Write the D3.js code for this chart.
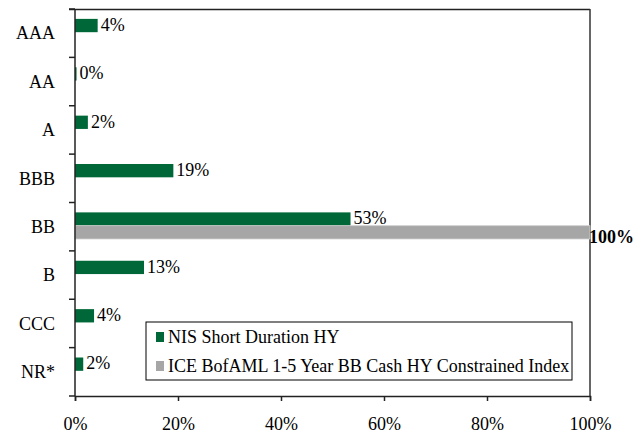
<!DOCTYPE html>
<meta charset="utf-8">
<script src="https://d3js.org/d3.v7.min.js"></script>
<style>
  body { margin: 0; background: #fff; }
  text { font-family: "Liberation Serif", "Times New Roman", serif; fill: #000; }
</style>
<div id="my_dataviz"></div>
<script>

// data
var ratings = ["AAA", "AA", "A", "BBB", "BB", "B", "CCC", "NR*"];
var nisValues = [4.4, 0.3, 2.5, 19.1, 53.5, 13.4, 3.7, 1.6];
var nisLabels = ["4%", "0%", "2%", "19%", "53%", "13%", "4%", "2%"];
var iceValues = [0, 0, 0, 0, 100, 0, 0, 0];
var iceLabels = ["", "", "", "", "100%", "", "", ""];
var seriesNames = ["NIS Short Duration HY", "ICE BofAML 1-5 Year BB Cash HY Constrained Index"];
var xTicks = [0, 20, 40, 60, 80, 100];

var green = "#006838", grey = "#a6a6a6";
var fontSize = "18px";

var margin = {top: 9, right: 44, bottom: 37, left: 75},
    width = 634 - margin.left - margin.right,
    height = 433 - margin.top - margin.bottom;

var svg = d3.select("#my_dataviz")
  .append("svg")
    .attr("width", 634)
    .attr("height", 433)
  .append("g")
    .attr("transform", "translate(" + margin.left + "," + margin.top + ")");

var x = d3.scaleLinear().domain([0, 100]).range([0, width]);

var y = d3.scaleBand()
  .domain(ratings)
  .range([0, height])
  .paddingInner(0.45)
  .paddingOuter(0.225);

var sub = d3.scaleBand()
  .domain([0, 1])
  .range([0, y.bandwidth()]);

// frame: top and right edge
svg.append("line")
  .attr("x1", -6).attr("x2", width).attr("y1", 0.5).attr("y2", 0.5)
  .attr("stroke", "#222").attr("stroke-width", 1.5);
svg.append("line")
  .attr("x1", width).attr("x2", width).attr("y1", 0).attr("y2", height)
  .attr("stroke", "#333").attr("stroke-width", 1.5);

// bars
var rows = ratings.map(function(r, i) {
  return {rating: r, nis: nisValues[i], ice: iceValues[i], nisLabel: nisLabels[i], iceLabel: iceLabels[i]};
});

var g = svg.selectAll(".row")
  .data(rows)
  .enter().append("g")
    .attr("transform", function(d) { return "translate(0," + (y(d.rating) - 1) + ")"; });

g.append("rect")
  .attr("x", 0)
  .attr("y", sub(0))
  .attr("width", function(d) { return x(d.nis); })
  .attr("height", sub.bandwidth())
  .attr("fill", green);

g.filter(function(d) { return d.ice > 0; }).append("rect")
  .attr("x", 0)
  .attr("y", sub(1))
  .attr("width", function(d) { return x(d.ice); })
  .attr("height", sub.bandwidth())
  .attr("fill", grey)
  .attr("stroke", "#d0d0d0")
  .attr("stroke-width", 0.8);

g.append("text")
  .attr("x", function(d) { return x(d.nis) + 3; })
  .attr("y", sub(0) + sub.bandwidth() / 2 - 1)
  .attr("dy", "0.35em")
  .style("font-size", fontSize)
  .text(function(d) { return d.nisLabel; });

g.filter(function(d) { return d.ice > 0; }).append("text")
  .attr("x", function(d) { return x(d.ice) - 1; })
  .attr("y", sub(1) + sub.bandwidth() / 2 + 4)
  .attr("dy", "0.35em")
  .style("font-size", fontSize)
  .style("font-weight", "bold")
  .text(function(d) { return d.iceLabel; });

// y axis with ticks between categories
var yAxis = svg.append("g");
yAxis.append("line")
  .attr("x1", 0).attr("x2", 0).attr("y1", 0).attr("y2", height)
  .attr("stroke", "#222").attr("stroke-width", 1.5);
yAxis.selectAll(".sep")
  .data(d3.range(ratings.length + 1))
  .enter().append("line")
    .attr("x1", -6).attr("x2", 0)
    .attr("y1", function(i) { return i * y.step(); })
    .attr("y2", function(i) { return i * y.step(); })
    .attr("stroke", "#222").attr("stroke-width", 1.5);
yAxis.selectAll(".lab")
  .data(ratings)
  .enter().append("text")
    .attr("x", -20)
    .attr("y", function(d) { return y(d) + y.bandwidth() / 2; })
    .attr("dy", "0.35em")
    .attr("text-anchor", "end")
    .style("font-size", fontSize)
    .text(function(d) { return d; });

// x axis
var xAxis = svg.append("g")
  .attr("transform", "translate(0," + height + ")")
  .call(d3.axisBottom(x).tickValues(xTicks).tickSize(5).tickPadding(16)
    .tickFormat(function(d) { return d + "%"; }));
xAxis.select(".domain").attr("stroke", "#222").attr("stroke-width", 1.5);
xAxis.selectAll(".tick line").attr("stroke", "#222").attr("stroke-width", 1.5);
xAxis.selectAll(".tick text")
  .style("font-family", "'Liberation Serif', serif")
  .style("font-size", fontSize);

// legend
var legend = svg.append("g")
  .attr("transform", "translate(" + (146 - margin.left) + "," + (322 - margin.top) + ")");
legend.append("rect")
  .attr("width", 426).attr("height", 58)
  .attr("fill", "#fff").attr("stroke", "#000").attr("stroke-width", 1);
var items = legend.selectAll(".item")
  .data(seriesNames)
  .enter().append("g")
    .attr("transform", function(d, i) { return "translate(10," + (15 + i * 29) + ")"; });
items.append("rect")
  .attr("y", -5).attr("width", 8).attr("height", 10)
  .attr("fill", function(d, i) { return i === 0 ? green : grey; });
items.append("text")
  .attr("x", 12)
  .attr("dy", "0.35em")
  .style("font-size", fontSize)
  .text(function(d) { return d; });

</script>
